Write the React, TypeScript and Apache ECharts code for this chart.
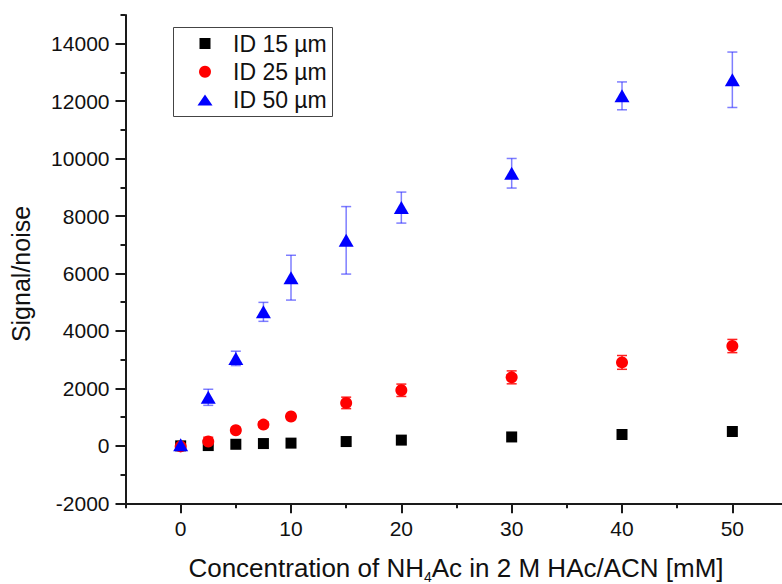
import React, { useEffect, useRef } from "react";
import * as echarts from "echarts";

const concentrations = [0, 2.5, 5, 7.5, 10, 15, 20, 30, 40, 50];
const id15Values = [0, 10, 55, 80, 95, 150, 200, 310, 395, 500];
const id25Values = [-20, 150, 545, 740, 1020, 1495, 1935, 2385, 2905, 3475];
const id25Errors = [50, 150, 100, 100, 100, 200, 215, 225, 240, 230];
const id50Values = [35, 1690, 3045, 4665, 5855, 7155, 8295, 9490, 12185, 12745];
const id50Errors = [60, 280, 250, 330, 780, 1175, 540, 515, 485, 965];

const xMajorTicks = [0, 10, 20, 30, 40, 50];
const xMinorTicks = [-5, 5, 15, 25, 35, 45];
const yMajorTicks = [-2000, 0, 2000, 4000, 6000, 8000, 10000, 12000, 14000];
const yMinorTicks = [-1000, 1000, 3000, 5000, 7000, 9000, 11000, 13000, 15000];

const seriesNames = ["ID 15 µm", "ID 25 µm", "ID 50 µm"];

const FONT = "'Liberation Sans', Arial, sans-serif";
const AXIS_COLOR = "#1a1a1a";

function errData(vals: number[], errs: number[]) {
  return concentrations.map((x, i) => [x, vals[i] - errs[i], vals[i] + errs[i]]);
}

function errorSeries(data: number[][], color: string) {
  return {
    type: "custom",
    xAxisIndex: 0,
    yAxisIndex: 0,
    z: 2,
    data,
    encode: { x: 0, y: [1, 2] },
    renderItem: (params: any, api: any) => {
      const x = api.value(0);
      const top = api.coord([x, api.value(2)]);
      const bot = api.coord([x, api.value(1)]);
      const hw = 5;
      const style = { stroke: color, lineWidth: 1.5 };
      return {
        type: "group",
        children: [
          { type: "line", shape: { x1: top[0], y1: top[1], x2: bot[0], y2: bot[1] }, style },
          { type: "line", shape: { x1: top[0] - hw, y1: top[1], x2: top[0] + hw, y2: top[1] }, style },
          { type: "line", shape: { x1: bot[0] - hw, y1: bot[1], x2: bot[0] + hw, y2: bot[1] }, style },
        ],
      };
    },
  };
}

export default function App() {
  const ref = useRef<HTMLDivElement>(null);
  useEffect(() => {
    if (!ref.current) return;
    const chart = echarts.init(ref.current, undefined, { renderer: "svg" });
    const xBase = { type: "value", min: -5, max: 54.5, gridIndex: 0, position: "bottom", splitLine: { show: false } };
    const yBase = { type: "value", min: -2000, max: 15000, gridIndex: 0, position: "left", splitLine: { show: false } };
    const option: any = {
      animation: false,
      backgroundColor: "#ffffff",
      grid: { left: 125.5, top: 15, right: 0, bottom: 80.7, containLabel: false },
      xAxis: [
        {
          ...xBase,
          axisLine: { show: true, onZero: false, lineStyle: { color: AXIS_COLOR, width: 2 } },
          axisTick: { show: true, inside: false, length: 10, customValues: xMajorTicks, lineStyle: { color: AXIS_COLOR, width: 2 } },
          axisLabel: { show: true, customValues: xMajorTicks, margin: 15, color: "#111", fontSize: 21, fontFamily: FONT, formatter: (v: number) => String(v) },
        },
        {
          ...xBase,
          axisLine: { show: false, onZero: false },
          axisTick: { show: true, inside: false, length: 5, customValues: xMinorTicks, lineStyle: { color: AXIS_COLOR, width: 2 } },
          axisLabel: { show: false },
        },
      ],
      yAxis: [
        {
          ...yBase,
          axisLine: { show: true, onZero: false, lineStyle: { color: AXIS_COLOR, width: 2 } },
          axisTick: { show: true, inside: false, length: 10, customValues: yMajorTicks, lineStyle: { color: AXIS_COLOR, width: 2 } },
          axisLabel: { show: true, customValues: yMajorTicks, margin: 16, color: "#111", fontSize: 21, fontFamily: FONT, formatter: (v: number) => String(v) },
        },
        {
          ...yBase,
          axisLine: { show: false, onZero: false },
          axisTick: { show: true, inside: false, length: 5, customValues: yMinorTicks, lineStyle: { color: AXIS_COLOR, width: 2 } },
          axisLabel: { show: false },
        },
      ],
      series: [
        errorSeries(errData(id25Values, id25Errors), "#ff2020"),
        errorSeries(errData(id50Values, id50Errors), "rgba(40,40,255,0.6)"),
        {
          name: seriesNames[0],
          type: "scatter",
          z: 3,
          symbol: "rect",
          symbolSize: 11,
          itemStyle: { color: "#000000", opacity: 1 },
          data: concentrations.map((x, i) => [x, id15Values[i]]),
        },
        {
          name: seriesNames[1],
          type: "scatter",
          z: 4,
          symbol: "circle",
          symbolSize: 12,
          itemStyle: { color: "#ff0000", opacity: 1 },
          data: concentrations.map((x, i) => [x, id25Values[i]]),
        },
        {
          name: seriesNames[2],
          type: "scatter",
          z: 5,
          symbol: "triangle",
          symbolSize: [15, 13],
          itemStyle: { color: "#0000ff", opacity: 1 },
          data: concentrations.map((x, i) => [x, id50Values[i]]),
        },
      ],
      graphic: [
        {
          type: "rect",
          shape: { x: 173.5, y: 27.5, width: 159, height: 89 },
          style: { fill: "#ffffff", stroke: "#444444", lineWidth: 1 },
          z: 10,
        },
        {
          type: "rect",
          shape: { x: 199.5, y: 38, width: 11, height: 11 },
          style: { fill: "#000000" },
          z: 11,
        },
        {
          type: "circle",
          shape: { cx: 205, cy: 71.7, r: 6 },
          style: { fill: "#ff0000" },
          z: 11,
        },
        {
          type: "polygon",
          shape: { points: [[197.5, 105.5], [212.5, 105.5], [205, 94.5]] },
          style: { fill: "#0000ff" },
          z: 11,
        },
        ...seriesNames.map((name, i) => ({
          type: "text",
          x: 233,
          y: 43.5 + i * 28.3,
          z: 11,
          style: { text: name, fontSize: 23, fontFamily: FONT, fill: "#111", textAlign: "left", textVerticalAlign: "middle" },
        })),
        {
          type: "text",
          x: 456,
          y: 568,
          z: 11,
          style: {
            text: "{a|Concentration of NH}{s|4}{a|Ac in 2 M HAc/ACN [mM]}",
            textAlign: "center",
            textVerticalAlign: "middle",
            fill: "#111",
            rich: {
              a: { fontSize: 26, fontFamily: FONT, fill: "#111", lineHeight: 26, verticalAlign: "bottom" },
              s: { fontSize: 14, fontFamily: FONT, fill: "#111", lineHeight: 14, verticalAlign: "bottom", padding: [0, 0, -3, 0] },
            },
          },
        },
        {
          type: "text",
          x: 21,
          y: 274,
          rotation: Math.PI / 2,
          z: 11,
          style: { text: "Signal/noise", fontSize: 25, fontFamily: FONT, fill: "#111", textAlign: "center", textVerticalAlign: "middle" },
        },
      ],
    };
    chart.setOption(option);
    return () => chart.dispose();
  }, []);
  return (
    <div
      ref={ref}
      style={{ position: "fixed", left: 0, top: 0, width: 782, height: 584, background: "#fff" }}
    />
  );
}
